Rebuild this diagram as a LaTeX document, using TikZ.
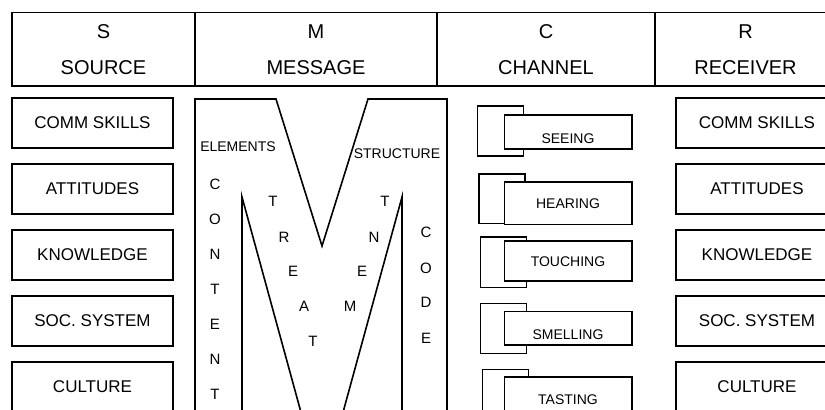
\documentclass[tikz,border=0pt]{standalone}
\usepackage{fontspec}
\setmainfont{Liberation Sans}
\usetikzlibrary{positioning}

\begin{document}
\begin{tikzpicture}[
  x=0.5pt, y=-0.5pt,
  line width=0.8pt,
  headcell/.style={draw, align=center, inner sep=0pt, outer sep=0pt,
    minimum height=36.7pt, font=\fontsize{10}{18}\selectfont},
  attrbox/.style={draw, minimum width=80.5pt, minimum height=25pt,
    inner sep=0pt, outer sep=0pt, font=\fontsize{8.5}{10}\selectfont},
  backbox/.style={draw, minimum width=23pt, inner sep=0pt},
  frontbox/.style={draw, fill=white, minimum width=63.7pt, inner sep=0pt},
  sense/.style={font=\fontsize{7}{8}\selectfont, inner sep=0pt},
  mword/.style={font=\fontsize{7}{8}\selectfont, inner sep=0pt},
  mletter/.style={font=\fontsize{7.5}{9}\selectfont, inner sep=0pt}
  ]
  \useasboundingbox (0,0) rectangle (825,409);
  \clip (0,0) rectangle (825,409);

  % header row
  \node[headcell, minimum width=91.5pt] (hS) at (103.5,49.3) {S\\SOURCE};
  \node[headcell, minimum width=121pt, right=0pt of hS] (hM) {M\\MESSAGE};
  \node[headcell, minimum width=109pt, right=0pt of hM] (hC) {C\\CHANNEL};
  \node[headcell, minimum width=90.5pt, right=0pt of hC] (hR) {R\\RECEIVER};

  % source
  \node[attrbox] (sComm) at (92.5,123) {COMM SKILLS};
  \node[attrbox, below=8pt of sComm] (sAtt) {ATTITUDES};
  \node[attrbox, below=8pt of sAtt] (sKnow) {KNOWLEDGE};
  \node[attrbox, below=8pt of sKnow] (sSoc) {SOC. SYSTEM};
  \node[attrbox, below=8pt of sSoc] (sCult) {CULTURE};

  % message
  \draw[line join=miter]
    (195,440) -- (195,99) -- (276,99) -- (322,246) -- (368,99)
    -- (447,99) -- (447,440);
  \draw[line join=miter]
    (242,440) -- (242,197) -- (322,489) -- (402,197) -- (402,440);
  \node[mword] (elem) at (238,147) {ELEMENTS};
  \node[mword] (struc) at (397,154) {STRUCTURE};
  \node[mletter] (c1) at (215,184) {C};
  \node[mletter] (c2) at (215,219) {O};
  \node[mletter] (c3) at (215,254) {N};
  \node[mletter] (c4) at (215,289) {T};
  \node[mletter] (c5) at (215,324) {E};
  \node[mletter] (c6) at (215,359) {N};
  \node[mletter] (c7) at (215,394) {T};
  \node[mletter] (t1) at (273,201) {T};
  \node[mletter] (t2) at (284,237) {R};
  \node[mletter] (t3) at (293,271) {E};
  \node[mletter] (t4) at (304,306) {A};
  \node[mletter] (t5) at (313,341) {T};
  \node[mletter] (t6) at (350,306) {M};
  \node[mletter] (t7) at (362,271) {E};
  \node[mletter] (t8) at (374,237) {N};
  \node[mletter] (t9) at (385,201) {T};
  \node[mletter] (d1) at (426,232) {C};
  \node[mletter] (d2) at (426,268) {O};
  \node[mletter] (d3) at (426,302) {D};
  \node[mletter] (d4) at (426,338) {E};

  % channel
  \node[backbox, minimum height=24.9pt] (seeB) at (500.3,130.9) {};
  \node[frontbox, minimum height=17pt] (seeF) at (568,132) {};
  \node[sense] (seeT) at (568,138.3) {SEEING};
  \node[backbox, minimum height=24.7pt] (hearB) at (502,198.7) {};
  \node[frontbox, minimum height=21.3pt] (hearF) at (568,203.3) {};
  \node[sense] (hearT) at (568,204) {HEARING};
  \node[backbox, minimum height=25.3pt] (touchB) at (503.3,262) {};
  \node[frontbox, minimum height=20pt] (touchF) at (568,260.7) {};
  \node[sense] (touchT) at (568,261.7) {TOUCHING};
  \node[backbox, minimum height=25pt] (smellB) at (503.3,328.3) {};
  \node[frontbox, minimum height=16.7pt] (smellF) at (568,328.3) {};
  \node[sense] (smellT) at (568,335) {SMELLING};
  \node[backbox, minimum height=25pt] (tasteB) at (505.3,394.3) {};
  \node[frontbox, minimum height=21pt] (tasteF) at (568,398) {};
  \node[sense] (tasteT) at (568,400) {TASTING};

  % receiver
  \node[attrbox, minimum width=81pt] (rComm) at (757,123) {COMM SKILLS};
  \node[attrbox, minimum width=81pt, below=8pt of rComm] (rAtt) {ATTITUDES};
  \node[attrbox, minimum width=81pt, below=8pt of rAtt] (rKnow) {KNOWLEDGE};
  \node[attrbox, minimum width=81pt, below=8pt of rKnow] (rSoc) {SOC. SYSTEM};
  \node[attrbox, minimum width=81pt, below=8pt of rSoc] (rCult) {CULTURE};
\end{tikzpicture}
\end{document}
